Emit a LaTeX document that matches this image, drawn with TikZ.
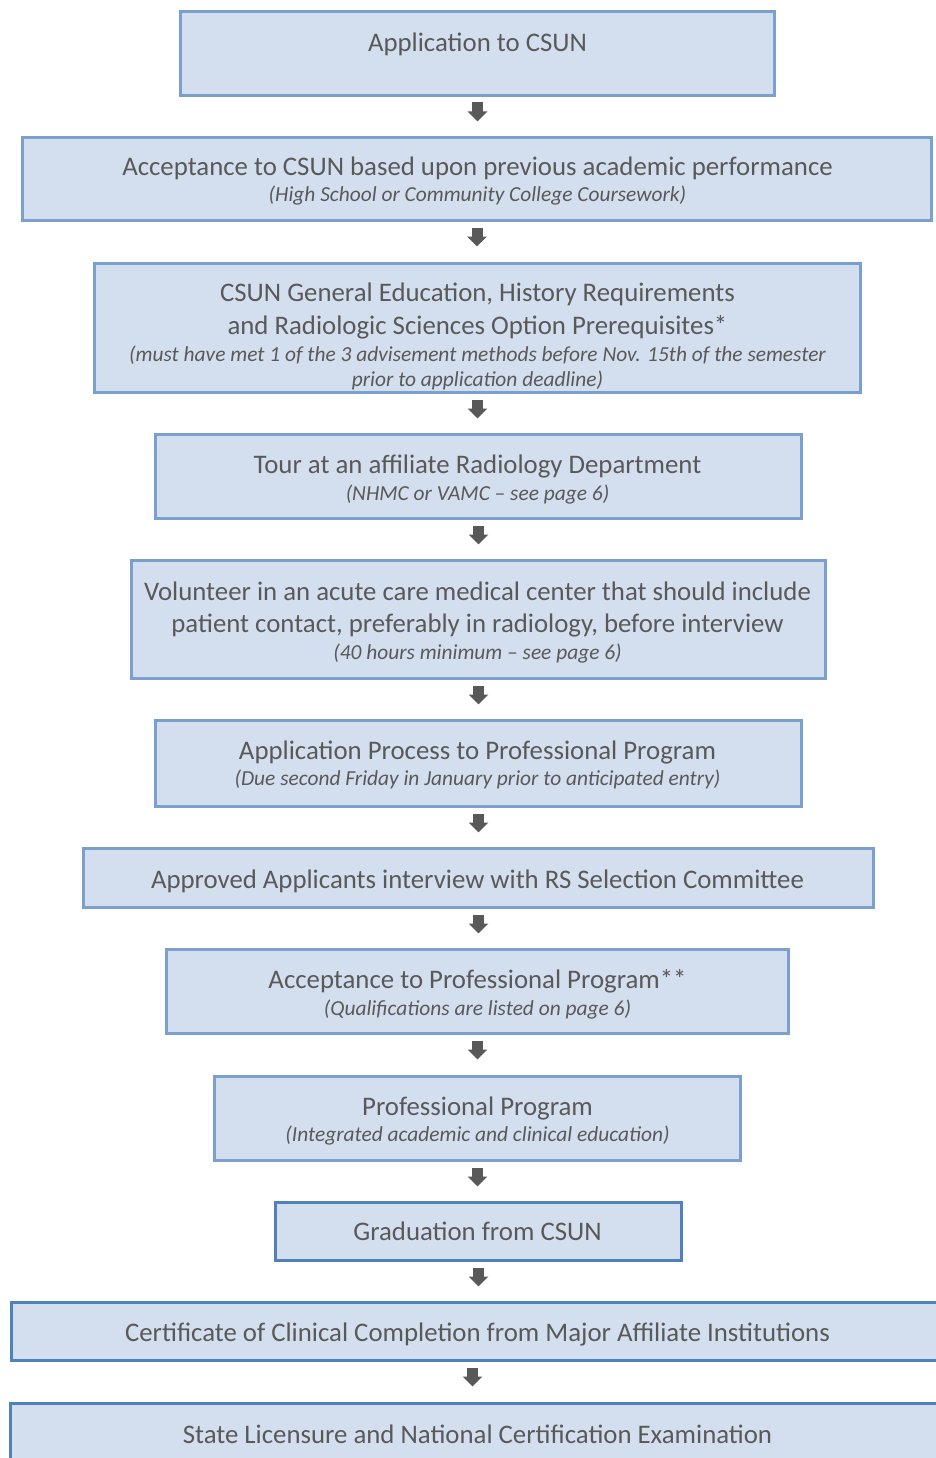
\documentclass[tikz,border=0pt]{standalone}
\usepackage{fontspec}
\setmainfont{Carlito}
\usetikzlibrary{arrows.meta}
\definecolor{boxfill}{HTML}{D3DFEE}
\definecolor{lightedge}{HTML}{7BA0CD}
\definecolor{darkedge}{HTML}{4F81BD}
\definecolor{txtgray}{HTML}{595959}
\definecolor{arrowgray}{HTML}{595959}
\tikzset{
  stepbox/.style={draw=lightedge, line width=3pt, fill=boxfill, rectangle, inner sep=0pt},
  darkbox/.style={stepbox, draw=darkedge},
  maintxt/.style={anchor=base, inner sep=0pt, text=txtgray, font=\fontsize{26.8}{32}\selectfont},
  subtxt/.style={anchor=base, inner sep=0pt, text=txtgray, font=\fontsize{21.4}{25}\selectfont\itshape},
  flowarrow/.style={draw=arrowgray, line width=11pt, -{Triangle[width=19pt,length=10pt]}}
}
\begin{document}
\begin{tikzpicture}[x=1pt, y=-1pt]
\useasboundingbox (0,0) rectangle (935,1458);
% boxes
\node[stepbox, minimum width=594pt, minimum height=84pt] (b1) at (477.5,53.5) {};
\node[stepbox, minimum width=909pt, minimum height=83pt] (b2) at (477,179) {};
\node[stepbox, minimum width=766pt, minimum height=129pt] (b3) at (477.5,328) {};
\node[stepbox, minimum width=646pt, minimum height=84pt] (b4) at (478.5,476.5) {};
\node[stepbox, minimum width=694pt, minimum height=118pt] (b5) at (478.5,619.5) {};
\node[stepbox, minimum width=646pt, minimum height=86pt] (b6) at (478.5,763.5) {};
\node[stepbox, minimum width=790pt, minimum height=59pt] (b7) at (478.5,878) {};
\node[stepbox, minimum width=622pt, minimum height=84pt] (b8) at (477.5,991.5) {};
\node[stepbox, minimum width=526pt, minimum height=84pt] (b9) at (477.5,1118.5) {};
\node[darkbox, minimum width=406pt, minimum height=58pt] (b10) at (478.5,1231.5) {};
\node[darkbox, minimum width=933pt, minimum height=58pt] (b11) at (478,1331.5) {};
\node[darkbox, minimum width=935pt, minimum height=67pt] (b12) at (478,1437) {};
% texts
\node[maintxt] (t1) at (477.5,51.5) {Application to CSUN};
\node[maintxt] (t2a) at (477.5,175.5) {Acceptance to CSUN based upon previous academic performance};
\node[subtxt] (t2b) at (477.5,201.5) {(High School or Community College Coursework)};
\node[maintxt] (t3a) at (477.5,301.5) {CSUN General Education, History Requirements};
\node[maintxt] (t3b) at (477.5,334.5) {and Radiologic Sciences Option Prerequisites*};
\node[subtxt] (t3c) at (477.5,361.5) {(must have met 1 of the 3 advisement methods before Nov. 15th of the semester};
\node[subtxt] (t3d) at (477.5,386.5) {prior to application deadline)};
\node[maintxt] (t4a) at (477.5,473.5) {Tour at an affiliate Radiology Department};
\node[subtxt] (t4b) at (477.5,500.5) {(NHMC or VAMC – see page 6)};
\node[maintxt] (t5a) at (477.5,600.5) {Volunteer in an acute care medical center that should include};
\node[maintxt] (t5b) at (477.5,632.5) {patient contact, preferably in radiology, before interview};
\node[subtxt] (t5c) at (477.5,659.5) {(40 hours minimum – see page 6)};
\node[maintxt] (t6a) at (477.5,759.5) {Application Process to Professional Program};
\node[subtxt] (t6b) at (477.5,785.5) {(Due second Friday in January prior to anticipated entry)};
\node[maintxt] (t7) at (477.5,888.5) {Approved Applicants interview with RS Selection Committee};
\node[maintxt] (t8a) at (477.5,988.5) {Acceptance to Professional Program**};
\node[subtxt] (t8b) at (477.5,1015.5) {(Qualifications are listed on page 6)};
\node[maintxt] (t9a) at (477.5,1115.5) {Professional Program};
\node[subtxt] (t9b) at (477.5,1141.5) {(Integrated academic and clinical education)};
\node[maintxt] (t10) at (477.5,1240.5) {Graduation from CSUN};
\node[maintxt] (t11) at (477.5,1341.5) {Certificate of Clinical Completion from Major Affiliate Institutions};
\node[maintxt] (t12) at (477.5,1443.5) {State Licensure and National Certification Examination};
% arrows
\foreach \a in {1,...,10}{
  \draw[flowarrow] ([yshift=-5.5pt]b\a.south) -- ++(0,19);
}
\draw[flowarrow] ([xshift=-5.5pt,yshift=-5.5pt]b11.south) -- ++(0,19);
\end{tikzpicture}
\end{document}
